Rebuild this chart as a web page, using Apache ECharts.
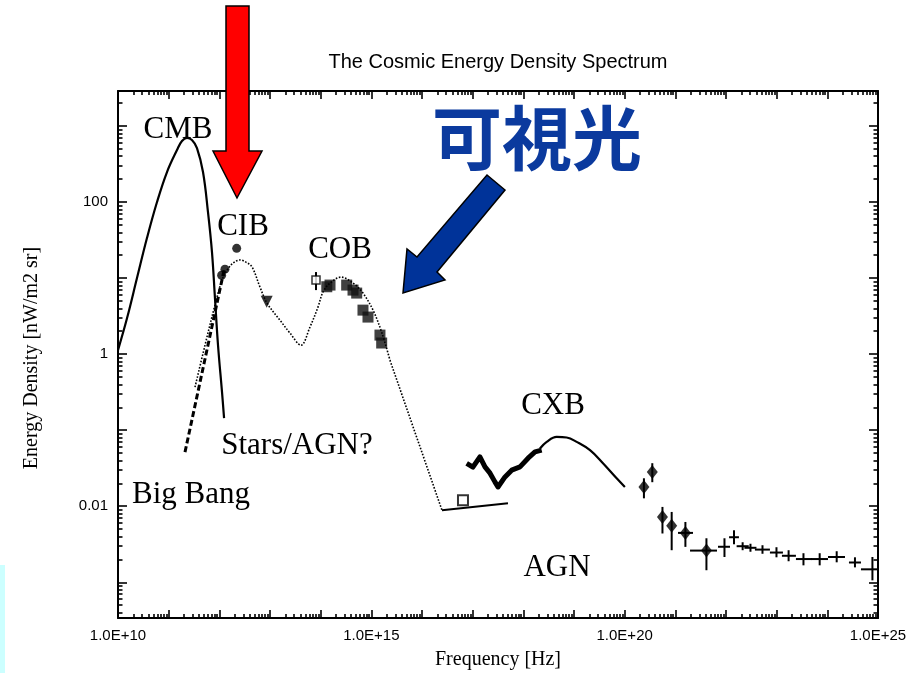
<!DOCTYPE html>
<html><head><meta charset="utf-8">
<script src="https://cdn.jsdelivr.net/npm/echarts@6/dist/echarts.min.js"></script>
<style>html,body{margin:0;padding:0;background:#fff}#c{width:911px;height:673px}</style>
</head><body><div id="c"></div>
<script>
// ---------- data (frequency [Hz], energy density [nW/m2 sr]) ----------
const cmbCurve = [[1.0e10,1.13],[1.51e10,2.98],[2.37e10,10],[3.73e10,33.6],[5.89e10,100],[9.27e10,248],[1.46e11,483],[1.83e11,635],[2.30e11,695],[2.88e11,655],[3.62e11,513],[4.76e11,248],[5.97e11,73.9],[7.16e11,22.0],[8.20e11,5.45],[9.42e11,1.31],[1.13e12,0.316],[1.24e12,0.144]];
const bigBangLine = [[2.10e11,0.0514],[1.24e12,12.7]];
const cibCobModel = [[3.31e11,0.368],[5.21e11,1.31],[8.20e11,4.42],[1.13e12,9.42],[1.42e12,12.7],[1.86e12,15.7],[2.56e12,17.3],[3.36e12,16.2],[4.42e12,14.0],[6.34e12,7.62],[8.73e12,4.69],[1.57e13,2.80],[2.48e13,1.89],[4.09e13,1.31],[6.15e13,2.27],[8.85e13,4.15],[1.11e14,6.55],[1.53e14,8.59],[2.52e14,10.3],[4.35e14,8.59],[6.84e14,6.35],[1.08e15,3.79],[1.62e15,1.89],[2.33e15,0.834]];
const uvTail = [[2.33e15,0.834],[2.48e16,0.00886]];
const euvLine = [[2.48e16,0.00886],[4.98e17,0.01094]];
const cibPoints = [[2.20e12,24.6],[1.29e12,13.1],[1.11e12,10.9]];
const cibTriangle = [[8.61e12,4.87]];
const cobOpen = [[8.09e13,9.42,6.95,12.0,8.09e13,8.09e13]];
const cobSquares = [[1.32e14,7.69],[1.53e14,8.09],[3.26e14,8.09],[4.35e14,6.95],[5.14e14,6.35],[6.84e14,3.79],[8.59e14,3.07],[1.48e15,1.78],[1.60e15,1.40]];
const euvSquare = [[6.44e16,0.012]];
const cxbData = [[7.62e16,0.0365],[1.01e17,0.0326],[1.39e17,0.0446],[1.75e17,0.0329],[2.20e17,0.0272],[2.75e17,0.0209],[3.16e17,0.0179],[4.35e17,0.0243],[5.89e17,0.0298],[8.59e17,0.0329],[1.24e18,0.0428],[1.70e18,0.0518],[2.30e18,0.0546]];
const cxbModel = [[2.13e18,0.0574],[2.89e18,0.0702],[4.55e18,0.0817],[7.16e18,0.0802],[1.13e19,0.0702],[2.07e19,0.0546],[3.73e19,0.0368],[6.95e19,0.0233],[1.01e20,0.0179]];
// [f, E, Elow, Ehigh, fLow, fHigh]
const gammaDiamonds = [[2.40e20,0.0179,0.0127,0.0233,2.40e20,2.40e20],[3.51e20,0.0282,0.0207,0.0368,3.51e20,3.51e20],[5.57e20,0.00722,0.00438,0.00979,5.57e20,5.57e20],[8.47e20,0.00553,0.00264,0.00841,8.47e20,8.47e20],[1.58e21,0.00446,0.00292,0.00621,1.13e21,2.23e21],[4.11e21,0.00261,0.00144,0.00379,1.95e21,6.64e21]];
const gammaCrosses = [[9.33e21,0.00293,0.00215,0.00379,6.95e21,1.20e22],[1.44e22,0.00391,0.00316,0.00483,1.15e22,1.80e22],[2.13e22,0.00298,0.00264,0.00336,1.62e22,2.81e22],[3.04e22,0.00284,0.00252,0.00321,2.31e22,3.99e22],[5.25e22,0.00269,0.00237,0.00307,3.72e22,7.36e22],[9.91e22,0.00246,0.00213,0.00289,7.36e22,1.33e23],[1.72e23,0.00223,0.00189,0.00264,1.27e23,2.40e23],[3.38e23,0.00202,0.00167,0.00241,2.40e23,4.97e23],[7.06e23,0.00202,0.00167,0.00241,4.75e23,1.03e24],[1.53e24,0.00215,0.00183,0.00256,1.03e24,2.23e24],[3.51e24,0.00182,0.00157,0.00213,2.67e24,4.61e24],[7.76e24,0.00148,0.00106,0.00215,4.61e24,1.0e25]];
// tick labels
const xTickValues = [1e10,1e15,1e20,1e25];
const xTickLabels = ['1.0E+10','1.0E+15','1.0E+20','1.0E+25'];
const yTickValues = [0.01,1,100];
const yTickLabels = ['0.01','1','100'];
const xRange = [1e10, 1e25];
const yRange = [3.39e-4, 2884];

// ---------- ticks ----------
function decades(lo, hi){const maj=[],min=[];for(let n=Math.floor(Math.log10(lo));n<=Math.ceil(Math.log10(hi));n++){const d=Math.pow(10,n);if(d>=lo*0.9999&&d<=hi*1.0001)maj.push(d);for(let k=2;k<=9;k++){const v=k*d;if(v>lo&&v<hi)min.push(v);}}return {maj,min};}
const xt = decades(xRange[0], xRange[1]);
const yt = decades(yRange[0], yRange[1]);
xt.maj[0]=xRange[0]*1.00001; xt.maj[xt.maj.length-1]=xRange[1]*0.99999;

const black = '#000';
function lblFmt(vals, labels){return function(v){let best=0,bd=1e9;vals.forEach((t,i)=>{const d=Math.abs(Math.log10(v)-Math.log10(t));if(d<bd){bd=d;best=i;}});return labels[best];};}
function axis(kind, pos, ticks, len, withLine, labels){
  const a = {type:'log', logBase:10, position:pos, min:kind==='x'?xRange[0]:yRange[0], max:kind==='x'?xRange[1]:yRange[1],
    splitLine:{show:false}, minorTick:{show:false},
    axisLine:{show:withLine, onZero:false, lineStyle:{color:black,width:2}},
    axisTick:{show:true, inside:true, length:len, customValues:ticks, lineStyle:{color:black,width:1.6}},
    axisLabel:{show:false}};
  if(labels){
    const vals = kind==='x'?xTickValues.map((v,i)=>i===0?v*1.00001:(i===xTickValues.length-1?v*0.99999:v)):yTickValues;
    a.axisLabel = {show:true, customValues:vals, formatter:lblFmt(kind==='x'?xTickValues:yTickValues, kind==='x'?xTickLabels:yTickLabels),
      color:'#000', fontFamily:'Liberation Sans', fontSize:15, margin:10};
  }
  return a;
}
const xAxes = [axis('x','bottom',xt.maj,8,true,true), axis('x','top',xt.maj,8,true,false), axis('x','bottom',xt.min,4,false,false), axis('x','top',xt.min,4,false,false)];
const yAxes = [axis('y','left',yt.maj,9,true,true), axis('y','right',yt.maj,9,true,false), axis('y','left',yt.min,4.5,false,false), axis('y','right',yt.min,4.5,false,false)];

function errRender(params, api){
  const c = api.coord([api.value(0), api.value(1)]);
  const lo = api.coord([api.value(0), api.value(2)]);
  const hi = api.coord([api.value(0), api.value(3)]);
  const l = api.coord([api.value(4), api.value(1)]);
  const r = api.coord([api.value(5), api.value(1)]);
  const st = {stroke:black, lineWidth:2};
  return {type:'group', children:[
    {type:'line', shape:{x1:c[0],y1:lo[1],x2:c[0],y2:hi[1]}, style:st},
    {type:'line', shape:{x1:l[0],y1:c[1],x2:r[0],y2:c[1]}, style:st}
  ]};
}

const serif = 'Liberation Serif';
function label(text, x, y){return {type:'text', x:x, y:y, z:50, style:{text:text, fontFamily:serif, fontSize:31, fill:'#000', align:'center', verticalAlign:'middle'}};}

const option = {
  animation:false,
  backgroundColor:'#fff',
  grid:{left:118, right:33, top:91, bottom:55, containLabel:false},
  xAxis:xAxes, yAxis:yAxes,
  series:[
    {type:'line', data:cmbCurve, smooth:0.4, symbol:'none', lineStyle:{color:black,width:2.2}},
    {type:'line', data:bigBangLine, symbol:'none', lineStyle:{color:black,width:3,type:[6,3]}},
    {type:'line', data:cibCobModel, smooth:0.35, symbol:'none', lineStyle:{color:black,width:1.6,type:[1.6,1.6]}},
    {type:'line', data:uvTail, symbol:'none', lineStyle:{color:black,width:1.6,type:[1.6,1.6]}},
    {type:'line', data:euvLine, symbol:'none', lineStyle:{color:black,width:2.2}},
    {type:'line', data:cxbData, symbol:'none', lineStyle:{color:black,width:5,join:'round'}},
    {type:'line', data:cxbModel, smooth:0.4, symbol:'none', lineStyle:{color:black,width:2.2}},
    {type:'scatter', data:cibPoints, symbol:'circle', symbolSize:9, itemStyle:{color:black}},
    {type:'scatter', data:cibTriangle, symbol:'triangle', symbolRotate:180, symbolSize:12, itemStyle:{color:black}},
    {type:'scatter', data:cobSquares, symbol:'rect', symbolSize:11, itemStyle:{color:'#111'}},
    {type:'custom', data:cobOpen, renderItem:errRender, encode:{x:0,y:1}, z:3},
    {type:'scatter', data:cobOpen.map(d=>[d[0],d[1]]), symbol:'rect', symbolSize:8, itemStyle:{color:'#fff',borderColor:black,borderWidth:1.5}, z:4},
    {type:'scatter', data:euvSquare, symbol:'rect', symbolSize:10, itemStyle:{color:'#fff',borderColor:black,borderWidth:2}},
    {type:'custom', data:gammaDiamonds, renderItem:errRender, encode:{x:0,y:1}},
    {type:'scatter', data:gammaDiamonds.map(d=>[d[0],d[1]]), symbol:'diamond', symbolSize:[11,14], itemStyle:{color:black}},
    {type:'custom', data:gammaCrosses, renderItem:errRender, encode:{x:0,y:1}}
  ],
  graphic:[
    {type:'rect', shape:{x:0,y:565,width:5,height:108}, style:{fill:'#ccffff'}},
    {type:'text', x:498, y:62, style:{text:'The Cosmic Energy Density Spectrum', fontFamily:'Liberation Sans', fontSize:20, fill:'#000', align:'center', verticalAlign:'middle'}},
    {type:'text', x:498, y:660, style:{text:'Frequency [Hz]', fontFamily:serif, fontSize:20, fill:'#000', align:'center', verticalAlign:'middle'}},
    {type:'text', x:32, y:358, rotation:Math.PI/2, style:{text:'Energy Density [nW/m2 sr]', fontFamily:serif, fontSize:20, fill:'#000', align:'center', verticalAlign:'middle'}},
    label('CMB',178,130), label('CIB',243,227), label('COB',340,250), label('CXB',553,406),
    label('AGN',557,568), label('Stars/AGN?',297,446), label('Big Bang',191,495),
    {type:'polygon', z:60, shape:{points:[[226,6],[249,6],[249,151],[262,151],[237,198],[213,151],[226,151]]}, style:{fill:'#ff0000', stroke:black, lineWidth:1.5}},
    {type:'polygon', z:60, shape:{points:[[487,175],[505,190],[437,272],[445,280],[403,293],[407,249],[417,257]]}, style:{fill:'#003399', stroke:black, lineWidth:1.5}},
    {type:'text', z:60, x:537, y:138, style:{text:'可視光', fontFamily:'Noto Sans CJK JP', fontWeight:'bold', fontSize:70, fill:'#0b3a9e', align:'center', verticalAlign:'middle'}}
  ]
};
const chart = echarts.init(document.getElementById('c'), null, {renderer:'canvas'});
chart.setOption(option);
</script>
</body></html>
